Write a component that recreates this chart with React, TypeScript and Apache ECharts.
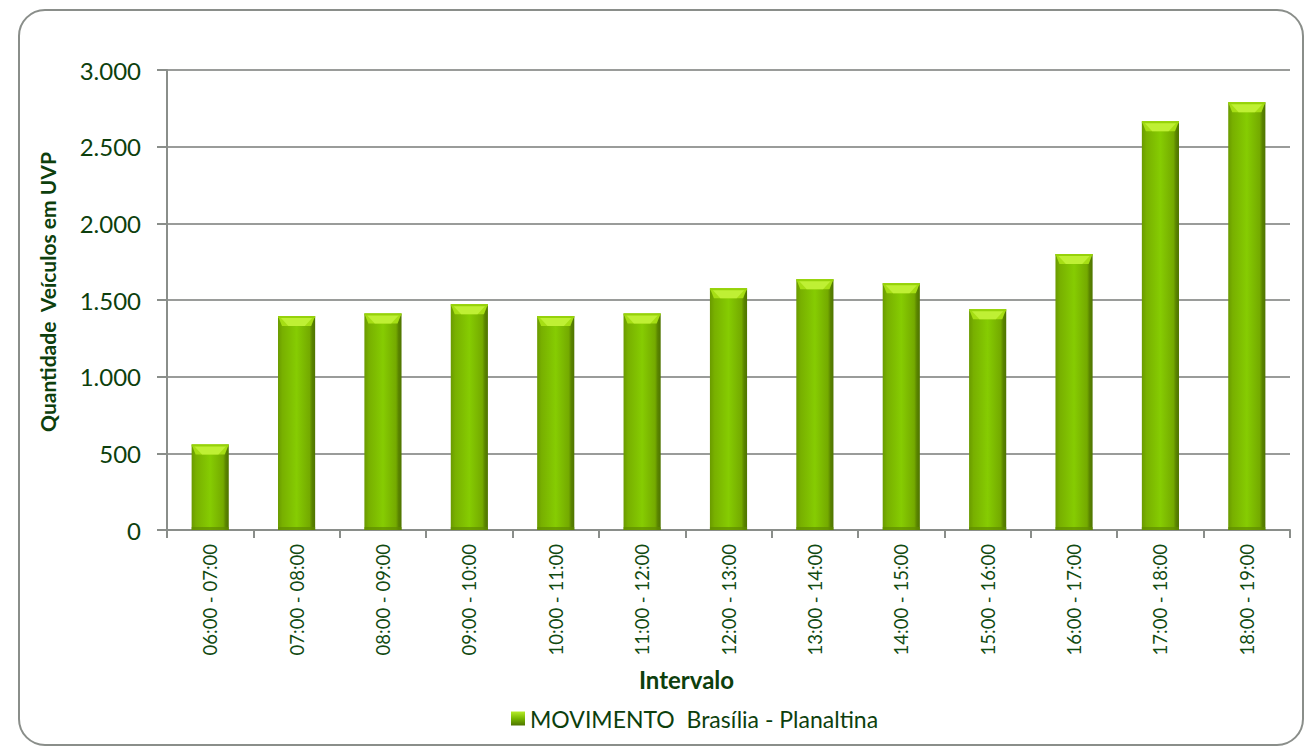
import React, { useEffect, useRef } from "react";
import * as echarts from "echarts";

const categories = [
  "06:00 - 07:00", "07:00 - 08:00", "08:00 - 09:00", "09:00 - 10:00",
  "10:00 - 11:00", "11:00 - 12:00", "12:00 - 13:00", "13:00 - 14:00",
  "14:00 - 15:00", "15:00 - 16:00", "16:00 - 17:00", "17:00 - 18:00",
  "18:00 - 19:00",
];
const values = [558, 1396, 1412, 1472, 1396, 1412, 1576, 1636, 1610, 1440, 1800, 2665, 2790];
const seriesName = "MOVIMENTO  Brasília - Planaltina";
const yTicks = { min: 0, max: 3000, interval: 500 };

const TXT = "#0d3f0d";
const FONT = "Lato, 'Open Sans', sans-serif";

export default function App() {
  const ref = useRef<HTMLDivElement>(null);
  useEffect(() => {
    document.body.style.margin = "0";
    const chart = echarts.init(ref.current!, null, { renderer: "svg" });
    const bodyGrad = new echarts.graphic.LinearGradient(0, 0, 1, 0, [
      { offset: 0, color: "#6a9a00" },
      { offset: 0.12, color: "#78b000" },
      { offset: 0.5, color: "#86cc02" },
      { offset: 0.85, color: "#74aa00" },
      { offset: 0.92, color: "#5a8400" },
      { offset: 1, color: "#4e7400" },
    ]);
    const legendGrad = new echarts.graphic.LinearGradient(0, 0, 0, 1, [
      { offset: 0, color: "#b6ec2a" },
      { offset: 0.5, color: "#78b800" },
      { offset: 1, color: "#4e7400" },
    ]);
    chart.setOption({
      animation: false,
      textStyle: { fontFamily: FONT },
      graphic: [
        {
          type: "rect",
          shape: { x: 19, y: 10, width: 1284, height: 735, r: 26 },
          style: { fill: "none", stroke: "#8a8e8a", lineWidth: 2 },
          silent: true,
        },
      ],
      grid: { left: 167, top: 70, right: 23, bottom: 224, containLabel: false },
      legend: {
        bottom: 19,
        left: 506,
        icon: "rect",
        itemWidth: 14,
        itemHeight: 14,
        itemGap: 6,
        textStyle: { color: TXT, fontSize: 23, fontFamily: FONT },
        data: [{ name: seriesName, itemStyle: { color: legendGrad } }],
      },
      xAxis: {
        type: "category",
        data: categories,
        boundaryGap: true,
        name: "Intervalo",
        nameLocation: "middle",
        nameGap: 137,
        nameTextStyle: {
          color: TXT,
          fontSize: 24,
          fontWeight: "bold",
          fontFamily: FONT,
          padding: [0, 84, 0, 0],
        },
        axisLine: { lineStyle: { color: "#8a8e8a", width: 2 } },
        axisTick: { show: true, length: 8, lineStyle: { color: "#8a8e8a", width: 2 } },
        axisLabel: { rotate: 90, color: "#114a11", fontSize: 18.5, margin: 14, fontFamily: FONT },
      },
      yAxis: {
        type: "value",
        min: yTicks.min,
        max: yTicks.max,
        interval: yTicks.interval,
        name: "Quantidade  Veículos em UVP",
        nameLocation: "middle",
        nameGap: 109,
        nameTextStyle: {
          color: TXT,
          fontSize: 21,
          fontWeight: "bold",
          fontFamily: FONT,
          padding: [0, 0, 0, 16],
        },
        axisLine: { show: true, lineStyle: { color: "#8a8e8a", width: 2 } },
        axisTick: { show: true, length: 10, lineStyle: { color: "#8a8e8a", width: 2 } },
        splitLine: { show: true, lineStyle: { color: "#9a9c9a", width: 2 } },
        axisLabel: {
          color: TXT,
          fontSize: 24,
          margin: 26,
          fontFamily: FONT,
          formatter: (v: number) => v.toLocaleString("de-DE"),
        },
      },
      series: [
        {
          name: seriesName,
          type: "custom",
          itemStyle: { color: legendGrad },
          data: values.map((v, i) => [i, v]),
          encode: { x: 0, y: 1 },
          renderItem: (params: any, api: any) => {
            const idx = api.value(0);
            const val = api.value(1);
            const top = api.coord([idx, val]);
            const base = api.coord([idx, 0]);
            const w = api.size([1, 0])[0] * 0.43;
            const x0 = top[0] - w / 2;
            const y0 = top[1];
            const h = base[1] - y0;
            const cap = Math.min(10, h / 3);
            return {
              type: "group",
              children: [
                {
                  type: "rect",
                  shape: { x: x0, y: y0, width: w, height: h },
                  style: { fill: bodyGrad },
                },
                {
                  type: "rect",
                  shape: { x: x0, y: base[1] - 3, width: w, height: 3 },
                  style: { fill: "#5f8c00", opacity: 0.7 },
                },
                {
                  type: "polygon",
                  shape: {
                    points: [
                      [x0, y0],
                      [x0 + w, y0],
                      [x0 + w - 4, y0 + cap],
                      [x0 + w * 0.72, y0 + cap],
                      [x0 + w * 0.28, y0 + cap],
                      [x0 + 4, y0 + cap],
                    ],
                  },
                  style: { fill: "#a6de14" },
                },
                {
                  type: "polygon",
                  shape: {
                    points: [
                      [x0 + 2, y0 + 1],
                      [x0 + w - 2, y0 + 1],
                      [x0 + w * 0.72, y0 + cap],
                      [x0 + w * 0.28, y0 + cap],
                    ],
                  },
                  style: { fill: "#bff034" },
                },
                {
                  type: "rect",
                  shape: { x: x0, y: y0, width: w, height: 2 },
                  style: { fill: "#96d20a" },
                },
              ],
            };
          },
        },
      ],
    });
    return () => chart.dispose();
  }, []);
  return (
    <div
      ref={ref}
      style={{ position: "fixed", left: 0, top: 0, width: 1313, height: 754, background: "#fff" }}
    />
  );
}
